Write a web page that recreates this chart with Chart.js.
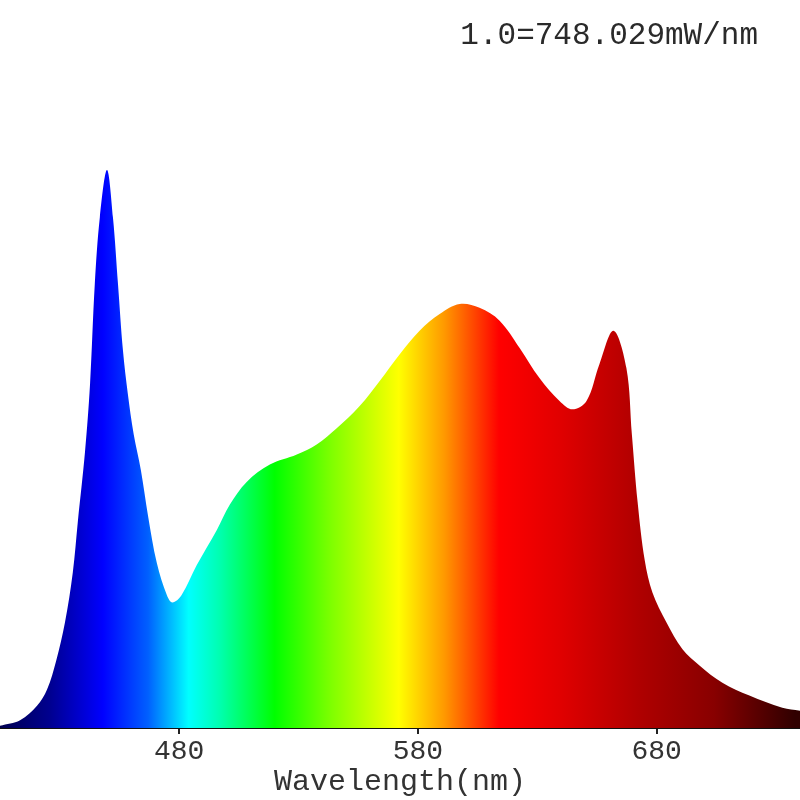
<!DOCTYPE html>
<html>
<head>
<meta charset="utf-8">
<script src="https://cdn.jsdelivr.net/npm/chart.js@4/dist/chart.umd.min.js"></script>
<style>
  html, body { margin: 0; padding: 0; background: #fff; }
  #wrap { width: 800px; height: 800px; }
</style>
</head>
<body>
<div id="wrap"><canvas id="spd"></canvas></div>
<script>
// relative spectral power, 1.0 = 748.029 mW/nm
const wavelengths = [405, 413.4, 420.5, 424.7, 428.5, 432.2, 435.5, 437.6, 440.6, 442.7, 444.7,
  446.8, 449.8, 452.3, 454.4, 456.5, 458.5, 461, 464, 467, 470.7, 474.9, 477.2, 481, 487.4,
  495.8, 501.2, 508.3, 518, 529.3, 537.6, 546, 555.6, 564, 572.4, 580.7, 589.1, 597.5, 605.8,
  614.2, 622.6, 630.9, 639.3, 644.7, 650.6, 656, 661.9, 667.3, 669.6, 672, 675, 678.2, 684.1,
  690.8, 697.9, 707.5, 718.8, 732.6, 740];
const intensity = [0.004, 0.014, 0.040, 0.069, 0.120, 0.189, 0.279, 0.370, 0.495, 0.616, 0.796,
  0.915, 1.0, 0.915, 0.796, 0.676, 0.600, 0.526, 0.462, 0.380, 0.295, 0.238, 0.225, 0.238,
  0.292, 0.355, 0.400, 0.441, 0.472, 0.490, 0.508, 0.537, 0.577, 0.622, 0.670, 0.712, 0.742,
  0.760, 0.753, 0.730, 0.681, 0.627, 0.586, 0.571, 0.586, 0.652, 0.712, 0.645, 0.526, 0.405,
  0.300, 0.243, 0.189, 0.141, 0.112, 0.081, 0.058, 0.036, 0.031];
const xTicks = [480, 580, 680];
const scaleNote = '1.0=748.029mW/nm';
const xTitle = 'Wavelength(nm)';

// spectrum colours along the wavelength axis
const spectrumStops = [
  [405, '#000050'], [426, '#000090'], [448, '#0000ff'], [467, '#0060ff'], [484, '#00ffff'],
  [497, '#00ffb0'], [520, '#00ff00'], [544, '#80ff00'], [572, '#ffff00'], [591, '#ff9900'],
  [614, '#ff0000'], [640, '#e00000'], [672, '#b00000'], [704, '#880000'], [738, '#300000']
];

const mono = '"Liberation Mono", "DejaVu Sans Mono", monospace';

const notePlugin = {
  id: 'note',
  afterDraw(chart) {
    const ctx = chart.ctx;
    ctx.save();
    ctx.font = '31px ' + mono;
    ctx.fillStyle = '#2a2a2a';
    ctx.textAlign = 'right';
    ctx.textBaseline = 'middle';
    ctx.fillText(scaleNote, 758, 36);
    ctx.restore();
  }
};

const spd = new Chart(document.getElementById('spd'), {
  type: 'line',
  data: {
    datasets: [{
      data: wavelengths.map((w, i) => ({ x: w, y: intensity[i] })),
      fill: 'origin',
      borderWidth: 0,
      pointRadius: 0,
      tension: 0.35,
      backgroundColor: (c) => {
        const { chart } = c;
        if (!chart.chartArea) return '#00f';
        const x = chart.scales.x;
        const x0 = x.getPixelForValue(400), x1 = x.getPixelForValue(745);
        const g = chart.ctx.createLinearGradient(x0, 0, x1, 0);
        spectrumStops.forEach(([w, col]) => g.addColorStop((x.getPixelForValue(w) - x0) / (x1 - x0), col));
        return g;
      }
    }]
  },
  options: {
    responsive: true,
    maintainAspectRatio: false,
    animation: false,
    layout: { padding: { top: 170, left: 0, right: 0, bottom: 0 } },
    plugins: { legend: { display: false }, tooltip: { enabled: false } },
    scales: {
      x: {
        type: 'linear', min: 405, max: 740,
        afterBuildTicks: (s) => { s.ticks = xTicks.map(v => ({ value: v })); },
        grid: { drawOnChartArea: false, tickLength: 6, color: '#222', lineWidth: 2 },
        border: { color: '#111', width: 3 },
        ticks: { font: { family: mono, size: 28, lineHeight: 0.93 }, color: '#333', padding: 5, maxRotation: 0 },
        title: { display: true, text: xTitle, font: { family: mono, size: 30, lineHeight: 0.8 }, color: '#333', padding: { top: 0, bottom: 6 } }
      },
      y: { display: false, min: 0, max: 1.0 }
    }
  },
  plugins: [notePlugin]
});
</script>
</body>
</html>
